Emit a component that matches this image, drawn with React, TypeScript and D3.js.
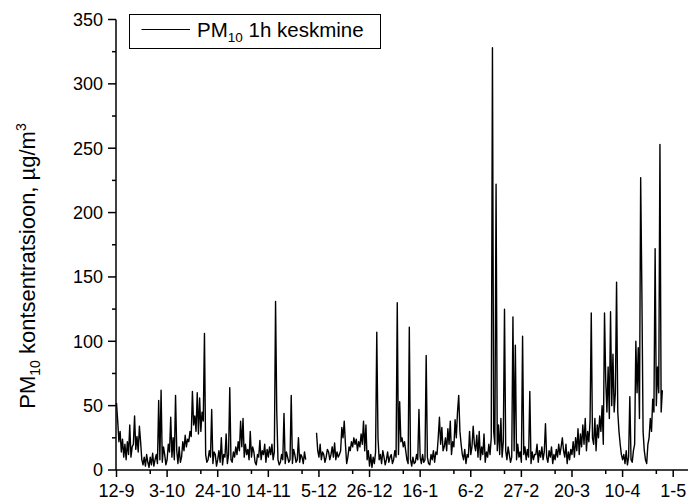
import React from "react";
import * as d3 from "d3";

// Time axis: days since 12-9 (two readings per day, 12 h apart)
const xTickLabels = ["12-9", "3-10", "24-10", "14-11", "5-12", "26-12", "16-1", "6-2", "27-2", "20-3", "10-4", "1-5"];
const xTickDays = [0, 21, 42, 63, 84, 105, 126, 147, 168, 189, 210, 231];
const xMinorDays = [14, 35, 56, 77, 98, 119, 140, 161, 182, 203, 224];
const yTicks = [0, 50, 100, 150, 200, 250, 300, 350];
const yMinor = [25, 75, 125, 175, 225, 275, 325];
const STEP_DAYS = 0.5;

// PM10 1h values (µg/m3), two per day
const pm10: (number | null)[] = [
  // days 0-6
  52, 38, 22, 30, 14, 24, 10, 20, 8, 22, 12, 35, 10, 18,
  // 7-13
  20, 42, 16, 26, 14, 34, 22, 8, 4, 10, 3, 12, 6, 2,
  // 14-20
  10, 4, 13, 3, 8, 12, 5, 54, 8, 62, 6, 18, 12, 4,
  // 21-27
  8, 20, 14, 41, 10, 25, 8, 58, 15, 5, 18, 6, 10, 22,
  // 28-34
  15, 27, 18, 24, 22, 30, 26, 61, 35, 42, 30, 60, 28, 56,
  // 35-41
  30, 45, 38, 106, 12, 6, 8, 15, 10, 47, 5, 14, 12, 3,
  // 42-48
  8, 15, 6, 25, 4, 12, 10, 28, 5, 12, 64, 8, 6, 14,
  // 49-55
  10, 18, 12, 22, 15, 38, 18, 40, 10, 20, 12, 16, 8, 30,
  // 56-62
  10, 18, 14, 6, 4, 12, 10, 23, 8, 15, 12, 20, 6, 16,
  // 63-69
  10, 18, 12, 20, 8, 14, 131, 45, 8, 4, 6, 12, 8, 44,
  // 70-76
  5, 14, 10, 6, 8, 58, 5, 16, 12, 6, 8, 25, 6, 12,
  // 77-83
  10, 5, 14, 8, null, null, null, null, null, null, null, null, 29, 15,
  // 84-90
  10, 20, 8, 14, 12, 6, 10, 16, 14, 8, 12, 18, 10, 21,
  // 91-97
  8, 14, 10, 12, 15, 33, 25, 38, 20, 5, 10, 18, 15, 22,
  // 98-104
  18, 25, 20, 24, 15, 22, 18, 28, 20, 38, 15, 35, 8, 15,
  // 105-111
  3, 12, 2, 10, 5, 14, 107, 25, 8, 12, 5, 15, 10, 4,
  // 112-118
  8, 14, 6, 10, 12, 5, 8, 15, 10, 130, 12, 53, 22, 25,
  // 119-125
  18, 22, 15, 8, 5, 111, 8, 3, 10, 5, 6, 12, 8, 47,
  // 126-132
  10, 5, 12, 6, 8, 89, 10, 5, 4, 12, 8, 15, 6, 14,
  // 133-139
  12, 25, 41, 20, 33, 15, 18, 25, 15, 32, 20, 38, 12, 22,
  // 140-146
  18, 39, 25, 45, 58, 30, 20, 12, 8, 16, 5, 12, 10, 30,
  // 147-153
  12, 18, 34, 20, 15, 27, 10, 30, 8, 18, 12, 28, 6, 14,
  // 154-160
  10, 20, 12, 25, 328, 30, 20, 222, 15, 35, 12, 40, 10, 22,
  // 161-167
  125, 15, 8, 18, 12, 6, 10, 119, 15, 97, 8, 20, 10, 14,
  // 168-174
  6, 104, 12, 18, 8, 16, 10, 61, 5, 14, 8, 12, 12, 20,
  // 175-181
  6, 15, 10, 18, 8, 14, 36, 10, 6, 15, 10, 18, 5, 12,
  // 182-188
  8, 16, 10, 20, 12, 18, 25, 15, 10, 20, 5, 14, 8, 16,
  // 189-195
  12, 22, 10, 25, 15, 32, 12, 28, 18, 35, 20, 40, 15, 30,
  // 196-202
  22, 38, 122, 25, 20, 40, 15, 35, 25, 42, 30, 50, 20, 122,
  // 203-209
  70, 45, 80, 40, 123, 50, 90, 45, 60, 146, 45, 30, 20, 12,
  // 210-216
  8, 12, 5, 15, 4, 10, 57, 8, 6, 15, 20, 100, 60, 95,
  // 217-223
  40, 227, 139, 30, 15, 8, 5, 20, 25, 40, 30, 55, 45, 172,
  // 224-226
  50, 80, 60, 253, 45, 62,
];

const W = 691;
const H = 504;
const FONT = "'Liberation Sans', Arial, Helvetica, sans-serif";

export default function App() {
  const x = d3.scaleLinear().domain([0, 231]).range([116.5, 673.2]);
  const y = d3.scaleLinear().domain([0, 350]).range([470, 19.5]);
  const axisX0 = 116;
  const axisY0 = 470;
  const axisXEnd = 688;

  const line = d3
    .line<number | null>()
    .defined((v) => v != null)
    .x((_, i) => x(i * STEP_DAYS))
    .y((v) => y(v as number));

  return (
    <svg
      width={W}
      height={H}
      style={{ position: "absolute", left: 0, top: 0, background: "#fff" }}
      fontFamily={FONT}
    >
      <rect x={0} y={0} width={W} height={H} fill="#fff" />
      {/* data */}
      <path d={line(pm10) || ""} fill="none" stroke="#000" strokeWidth={1.4} strokeLinejoin="round" />

      {/* y axis */}
      <line x1={axisX0} x2={axisX0} y1={axisY0} y2={y(350)} stroke="#000" strokeWidth={1.5} />
      {yTicks.map((t) => (
        <g key={"yt" + t}>
          <line x1={axisX0 - 8} x2={axisX0} y1={y(t)} y2={y(t)} stroke="#000" strokeWidth={1.5} />
          <text x={axisX0 - 13} y={y(t)} dy="0.36em" textAnchor="end" fontSize={18} fill="#000">
            {t}
          </text>
        </g>
      ))}
      {yMinor.map((t) => (
        <line key={"ym" + t} x1={axisX0 - 4} x2={axisX0} y1={y(t)} y2={y(t)} stroke="#000" strokeWidth={1.5} />
      ))}

      {/* x axis */}
      <line x1={axisX0} x2={axisXEnd} y1={axisY0} y2={axisY0} stroke="#000" strokeWidth={1.5} />
      {xTickDays.map((d, i) => (
        <g key={"xt" + d}>
          <line x1={x(d)} x2={x(d)} y1={axisY0} y2={axisY0 + 7} stroke="#000" strokeWidth={1.5} />
          <text x={x(d)} y={497} textAnchor="middle" fontSize={18} fill="#000">
            {xTickLabels[i]}
          </text>
        </g>
      ))}
      {xMinorDays.map((d) => (
        <line key={"xm" + d} x1={x(d)} x2={x(d)} y1={axisY0} y2={axisY0 + 4} stroke="#000" strokeWidth={1.5} />
      ))}

      {/* y title */}
      <text
        transform={`translate(35,266) rotate(-90)`}
        textAnchor="middle"
        fontSize={22}
        fill="#000"
      >
        PM
        <tspan fontSize={14} dy={5}>10</tspan>
        <tspan dy={-5}> kontsentratsioon, µg/m</tspan>
        <tspan fontSize={14} dy={-9}>3</tspan>
      </text>

      {/* legend */}
      <rect x={129.5} y={14.5} width={251} height={34} fill="#fff" stroke="#000" strokeWidth={1} />
      <line x1={141.5} x2={190} y1={29.5} y2={29.5} stroke="#000" strokeWidth={1} />
      <text x={197} y={37} fontSize={20.5} fill="#000">
        PM
        <tspan fontSize={13.5} dy={5}>10</tspan>
        <tspan dy={-5}> 1h keskmine</tspan>
      </text>
    </svg>
  );
}
